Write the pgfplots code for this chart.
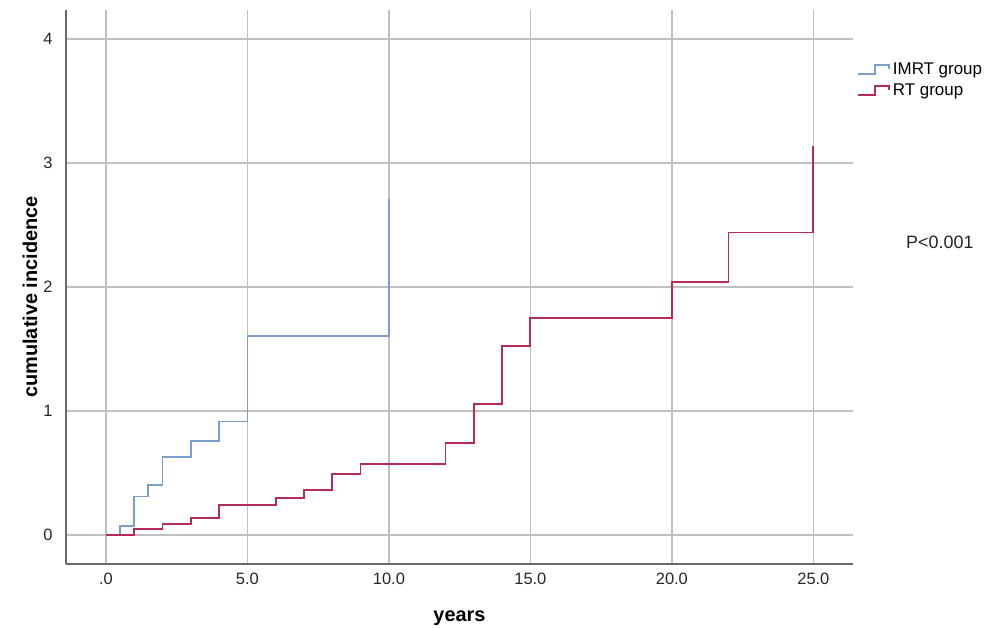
\documentclass[border=0pt]{standalone}
\usepackage{pgfplots}
\pgfplotsset{compat=1.18}
\usepackage{fontspec}
\setmainfont{Liberation Sans}
\definecolor{imrt}{RGB}{124,158,203}
\definecolor{rtc}{RGB}{184,42,88}
\definecolor{gridc}{RGB}{192,192,192}
\definecolor{axc}{RGB}{105,105,105}
\begin{document}
\begin{tikzpicture}
\begin{axis}[
  scale only axis,
  width=787bp, height=554bp,
  xmin=-1.41, xmax=26.4,
  ymin=-0.234, ymax=4.234,
  clip=false,
  axis x line*=bottom, axis y line*=left,
  axis line style={axc, line width=1.6bp},
  xtick={0,5,10,15,20,25},
  xticklabels={.0,5.0,10.0,15.0,20.0,25.0},
  ytick={0,1,2,3,4},
  major tick length=0pt,
  grid=major,
  major grid style={gridc, line width=1.4bp},
  /pgf/number format/assume math mode=true,
  ticklabel style={font=\fontsize{16.5}{19}\selectfont, text=black!85},
  yticklabel style={anchor=east, xshift=-10bp},
  xticklabel style={anchor=north, yshift=-6bp},
  xlabel={years},
  ylabel={cumulative incidence},
  label style={font=\fontsize{20}{24}\selectfont\bfseries},
  xlabel style={at={(axis description cs:0.5,-0.0975)}, anchor=center},
  ylabel style={at={(axis description cs:-0.0457,0.482)}, anchor=center},
  legend style={at={(axis description cs:1.005,0.908)}, anchor=north west, draw=none, fill=none,
    font=\fontsize{17}{20}\selectfont, row sep=4bp, inner sep=0pt,
    nodes={inner xsep=3bp}},
  legend cell align=left,
  legend image code/.code={\draw[#1] (0bp,-4bp) -- (17bp,-4bp) -- (17bp,5bp) -- (31bp,5bp) -- (31bp,1bp);},
]
\addplot[const plot, imrt, line width=1.8bp] coordinates {
(0,0) (0.5,0.07) (1,0.31) (1.5,0.40) (2,0.63) (3,0.76) (4,0.915) (5,1.605) (10,2.71)};
\addlegendentry{IMRT group}
\addplot[const plot, rtc, line width=1.8bp] coordinates {
(0,0) (1,0.046) (2,0.09) (3,0.14) (4,0.245) (6,0.30) (7,0.365) (8,0.49) (9,0.57) (12,0.74) (13,1.056) (14,1.527) (15,1.75) (20,2.04) (22,2.44) (25,3.14)};
\addlegendentry{RT group}
\node[font=\fontsize{18}{21}\selectfont, text=black!85] at (axis cs:29.47,2.36) {P<0.001};
\end{axis}
\pgfresetboundingbox
\path (current axis.south west) ++(-66bp,-65bp) rectangle ++(991bp,629bp);
\end{tikzpicture}
\end{document}
